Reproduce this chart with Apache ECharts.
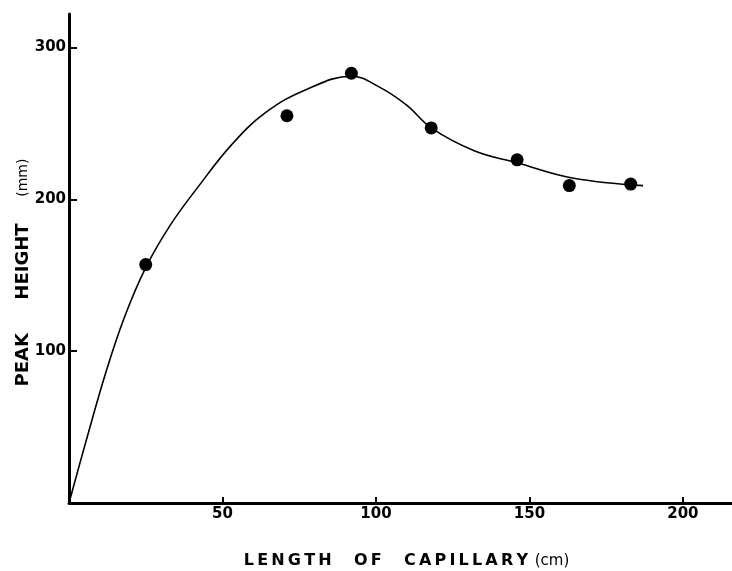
<!DOCTYPE html>
<html>
<head>
<meta charset="utf-8">
<script src="https://cdn.jsdelivr.net/npm/echarts@6/dist/echarts.min.js"></script>
<style>
  html, body { margin: 0; padding: 0; background: #fff; }
  #chart { width: 732px; height: 571px; }
</style>
</head>
<body>
<div id="chart"></div>
<script>
// measured points: length of capillary (cm), peak height (mm)
var pointX = [25, 71, 92, 118, 146, 163, 183];
var pointY = [157, 255, 283, 247, 226, 209, 210];

// hand-drawn fitted curve
var curveX = [0, 6, 12, 18, 25, 33, 42, 53, 64, 77, 92, 101, 110, 118, 132, 146, 164, 187];
var curveY = [0, 44, 86, 122, 155, 183, 208, 236, 257, 272, 281, 274, 262, 247, 232, 224, 214, 209];

var xTicks = [50, 100, 150, 200];
var yTicks = [100, 200, 300];

function pairs(xs, ys) {
  var out = [];
  for (var i = 0; i < xs.length; i++) out.push([xs[i], ys[i]]);
  return out;
}

// wide lettering like the original typeset labels
function spaced(s) {
  return s.split("").join("\u2009");
}

var chart = echarts.init(document.getElementById("chart"));
chart.setOption({
  animation: false,
  backgroundColor: "#fff",
  grid: { left: 69, right: 0, top: 14, bottom: 68, containLabel: false, outerBoundsMode: "none" },
  xAxis: {
    type: "value",
    min: 0,
    max: 216,
    interval: 50,
    name: "{a|" + spaced("LENGTH") + "    " + spaced("OF") + "    " + spaced("CAPILLARY") + "}  {b|(cm)}",
    nameLocation: "middle",
    nameGap: 50,
    nameMoveOverlap: false,
    nameTextStyle: {
      padding: [0, 0, 0, 12],
      rich: {
        a: { fontFamily: "DejaVu Sans", fontWeight: "bold", fontSize: 16, color: "#000" },
        b: { fontFamily: "DejaVu Sans", fontSize: 15, color: "#000" }
      }
    },
    axisLine: { lineStyle: { color: "#000", width: 3 } },
    axisTick: { inside: true, length: 6, customValues: xTicks, lineStyle: { color: "#000", width: 2 } },
    splitLine: { show: false },
    axisLabel: {
      customValues: xTicks,
      margin: 4,
      color: "#000",
      fontFamily: "DejaVu Sans",
      fontWeight: "bold",
      fontSize: 15
    }
  },
  yAxis: {
    type: "value",
    min: 0,
    max: 322,
    interval: 100,
    name: "{a|PEAK}          {a|HEIGHT}        {b|(mm)}",
    nameLocation: "middle",
    nameGap: 37,
    nameMoveOverlap: false,
    nameRotate: 90,
    nameTextStyle: {
      padding: [0, 28, 0, 0],
      rich: {
        a: { fontFamily: "DejaVu Sans", fontWeight: "bold", fontSize: 18, color: "#000" },
        b: { fontFamily: "DejaVu Sans", fontSize: 14, color: "#000" }
      }
    },
    axisLine: { lineStyle: { color: "#000", width: 3 } },
    axisTick: { inside: true, length: 8, customValues: yTicks, lineStyle: { color: "#000", width: 2 } },
    splitLine: { show: false },
    axisLabel: {
      customValues: yTicks,
      margin: 3,
      color: "#000",
      fontFamily: "DejaVu Sans",
      fontWeight: "bold",
      fontSize: 15
    }
  },
  series: [
    {
      type: "line",
      data: pairs(curveX, curveY),
      smooth: 0.4,
      showSymbol: false,
      lineStyle: { color: "#000", width: 1.6 }
    },
    {
      type: "scatter",
      data: pairs(pointX, pointY),
      symbolSize: 13,
      itemStyle: { color: "#000", opacity: 1 }
    }
  ]
});
</script>
</body>
</html>
